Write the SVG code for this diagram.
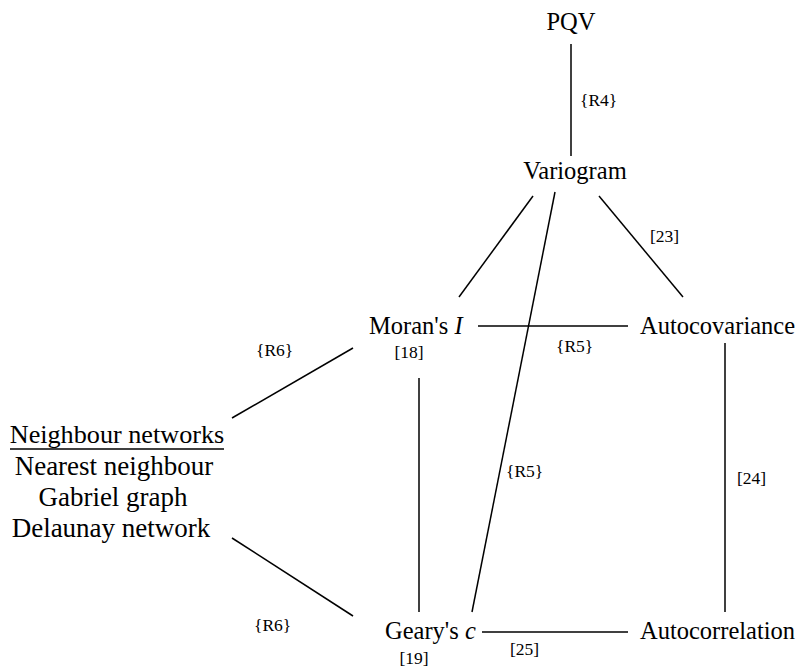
<svg xmlns="http://www.w3.org/2000/svg" width="803" height="671" viewBox="0 0 803 671" font-family="'Liberation Serif', 'DejaVu Serif', serif">
<style>
text{font-family:"Liberation Serif","DejaVu Serif",serif;fill:#000}
.n{font-size:24.5px}
.b{font-size:27px}
.h{font-size:26.2px}
.l{font-size:17.5px}
.c line{stroke:#000;stroke-width:1.5}
</style>
<rect width="803" height="671" fill="#fff"/>
<g class="c" id="connectors">
<line x1="571" y1="44" x2="571" y2="156"/>
<line x1="533" y1="196" x2="459" y2="297"/>
<line x1="555" y1="192" x2="472" y2="612"/>
<line x1="599" y1="196" x2="683" y2="297"/>
<line x1="478" y1="326" x2="628" y2="326"/>
<line x1="419" y1="378" x2="419" y2="612"/>
<line x1="725" y1="343" x2="725" y2="612"/>
<line x1="482" y1="632" x2="628" y2="632"/>
<line x1="232" y1="418" x2="353" y2="348"/>
<line x1="232" y1="538" x2="353" y2="616"/>
<text class="l" x="580" y="106">{R4}</text>
<text class="l" x="650" y="242">[23]</text>
<text class="l" x="556" y="352">{R5}</text>
<text class="l" x="506" y="477">{R5}</text>
<text class="l" x="737" y="484">[24]</text>
<text class="l" x="510" y="655">[25]</text>
<text class="l" x="256" y="356">{R6}</text>
<text class="l" x="254" y="631">{R6}</text>
</g>
<g id="pqv"><text class="n" x="571" y="30" text-anchor="middle">PQV</text></g>
<g id="variogram"><text class="n" x="575" y="179" text-anchor="middle">Variogram</text></g>
<g id="moran"><text class="n" x="369" y="334">Moran's <tspan font-style="italic">I</tspan></text><text class="l" x="409" y="358" text-anchor="middle">[18]</text></g>
<g id="autocovariance"><text class="n" x="640" y="334">Autocovariance</text></g>
<g id="geary"><text class="n" x="385" y="639">Geary's <tspan font-style="italic">c</tspan></text><text class="l" x="414" y="664" text-anchor="middle">[19]</text></g>
<g id="autocorrelation"><text class="n" x="640" y="639">Autocorrelation</text></g>
<g id="neighbour">
<text class="h" x="117" y="443" text-anchor="middle">Neighbour networks</text>
<line x1="10" y1="449" x2="224" y2="449" stroke="#000" stroke-width="1.5"/>
<text class="b" x="114" y="475" text-anchor="middle">Nearest neighbour</text>
<text class="b" x="113" y="506" text-anchor="middle">Gabriel graph</text>
<text class="b" x="111" y="537" text-anchor="middle">Delaunay network</text>
</g>
</svg>
